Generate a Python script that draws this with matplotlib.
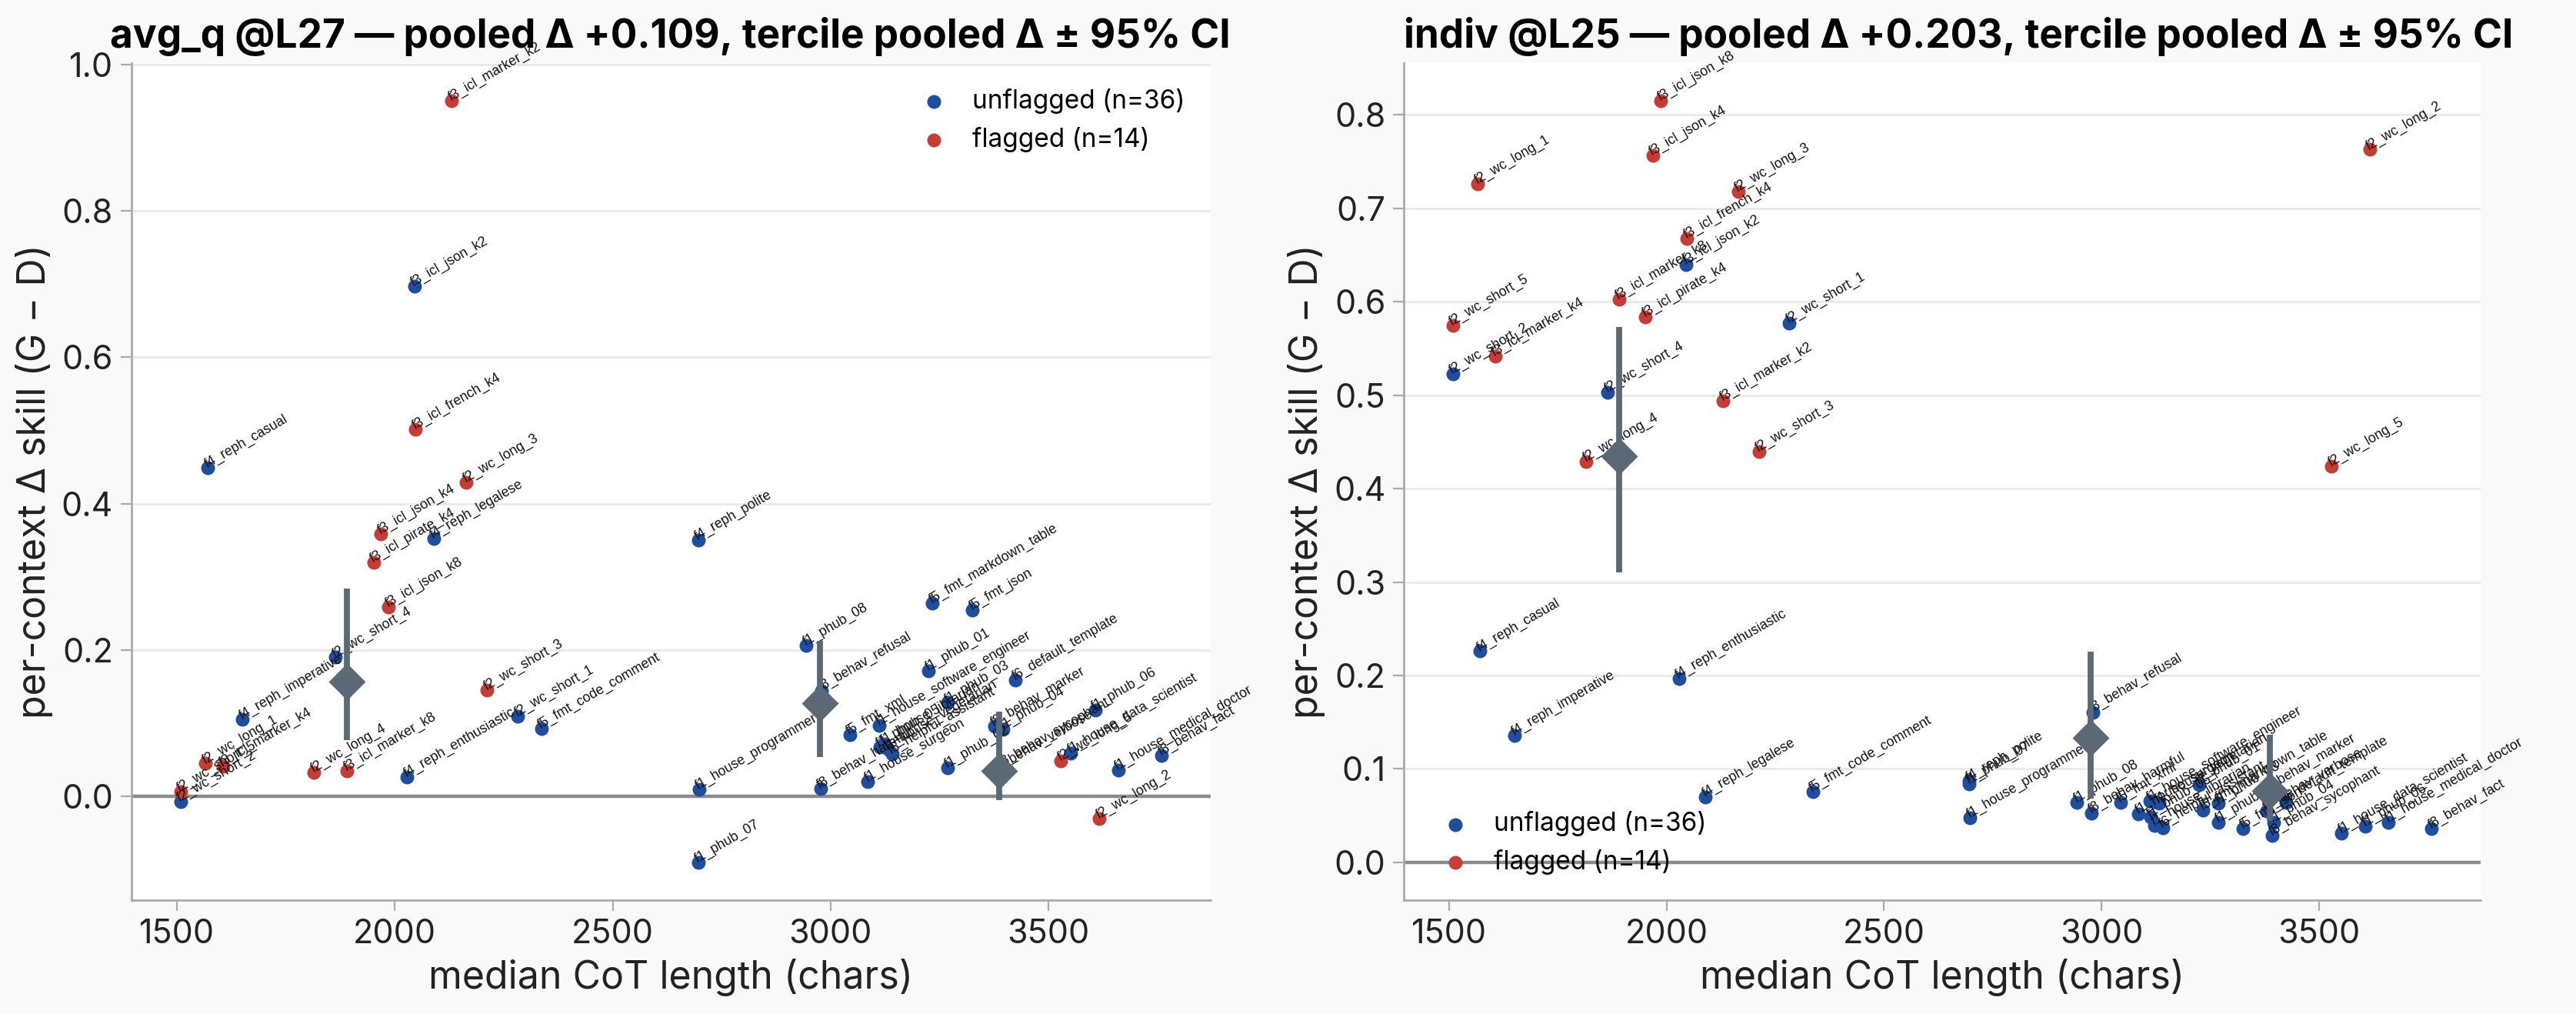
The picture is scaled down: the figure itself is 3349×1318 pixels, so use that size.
import matplotlib
matplotlib.use("Agg")
import matplotlib.pyplot as plt
import numpy as np

plt.rcParams['font.family'] = ['Inter', 'DejaVu Sans']

# ---------------- data ----------------
names = [
    "f3_icl_marker_k2", "f3_icl_json_k2", "f3_icl_french_k4", "f4_reph_casual", "f2_wc_long_3",
    "f3_icl_json_k4", "f4_reph_legalese", "f3_icl_pirate_k4", "f4_reph_polite", "f3_icl_json_k8",
    "f2_wc_short_4", "f4_reph_imperative", "f2_wc_short_3", "f2_wc_short_1", "f5_fmt_code_comment",
    "f2_wc_long_1", "f3_icl_marker_k4", "f2_wc_long_4", "f3_icl_marker_k8", "f4_reph_enthusiastic",
    "f2_wc_short_5", "f2_wc_short_2", "f1_house_programmer", "f1_phub_07", "f5_fmt_markdown_table",
    "f5_fmt_json", "f1_phub_08", "f8_behav_refusal", "f1_phub_01", "f1_house_software_engineer",
    "f5_fmt_xml", "f1_phub_03", "f6_default_template", "f8_behav_marker", "f1_phub_04",
    "f1_phub_06", "f8_behav_sycophant", "f1_phub_02", "f1_house_surgeon", "f8_behav_harmful",
    "f2_wc_long_5", "f1_house_data_scientist", "f1_house_medical_doctor", "f8_behav_fact", "f2_wc_long_2",
    "f1_phub_05", "f1_house_librarian", "f6_helpful_assistant", "f1_house_vegetarian", "f8_behav_verbose",
]
cot_len = [
    2130, 2045, 2047, 1571, 2164,
    1968, 2089, 1951, 2696, 1986,
    1864, 1650, 2212, 2282, 2336,
    1565, 1605, 1815, 1890, 2028,
    1508, 1508, 2698, 2696, 3234,
    3326, 2944, 2980, 3225, 3112,
    3044, 3269, 3424, 3376, 3396,
    3607, 3393, 3269, 3085, 2977,
    3529, 3552, 3660, 3760, 3617,
    3113, 3123, 3141, 3132, 3380,
]
delta_avgq = [
    0.950, 0.697, 0.502, 0.449, 0.429,
    0.359, 0.352, 0.320, 0.350, 0.259,
    0.190, 0.105, 0.145, 0.110, 0.093,
    0.045, 0.041, 0.033, 0.035, 0.027,
    0.007, -0.007, 0.010, -0.090, 0.264,
    0.255, 0.206, 0.144, 0.172, 0.097,
    0.084, 0.128, 0.159, 0.096, 0.092,
    0.118, 0.040, 0.039, 0.020, 0.011,
    0.049, 0.059, 0.036, 0.056, -0.030,
    0.068, 0.072, 0.058, 0.064, 0.033,
]
delta_indiv = [
    0.494, 0.640, 0.668, 0.226, 0.718,
    0.757, 0.070, 0.584, 0.087, 0.815,
    0.503, 0.136, 0.440, 0.577, 0.076,
    0.726, 0.542, 0.429, 0.603, 0.197,
    0.575, 0.523, 0.048, 0.084, 0.056,
    0.036, 0.0645, 0.1605, 0.083, 0.066,
    0.064, 0.063, 0.0645, 0.074, 0.043,
    0.039, 0.029, 0.043, 0.052, 0.053,
    0.424, 0.031, 0.043, 0.036, 0.763,
    0.0487, 0.0395, 0.0369, 0.0632, 0.0553,
]
flagged = [
    1, 0, 1, 0, 1,
    1, 0, 1, 0, 1,
    0, 0, 1, 0, 0,
    1, 1, 1, 1, 0,
    1, 0, 0, 0, 0,
    0, 0, 0, 0, 0,
    0, 0, 0, 0, 0,
    0, 0, 0, 0, 0,
    1, 0, 0, 0, 1,
    0, 0, 0, 0, 0,
]

tercile_x = [1890, 2976, 3387]
tercile_avgq = [0.157, 0.127, 0.035]
tercile_avgq_lo = [0.077, 0.0535, -0.005]
tercile_avgq_hi = [0.284, 0.213, 0.116]
tercile_indiv = [0.435, 0.133, 0.0763]
tercile_indiv_lo = [0.310, 0.0684, 0.0442]
tercile_indiv_hi = [0.573, 0.2258, 0.1368]

titles = ["avg_q @L27 \u2014 pooled \u0394 +0.109, tercile pooled \u0394 \u00b1 95% CI",
          "indiv @L25 \u2014 pooled \u0394 +0.203, tercile pooled \u0394 \u00b1 95% CI"]
legend_loc = ["upper right", "lower left"]
title_x = [-0.02, 0.0]

# ---------------- plot ----------------
BLUE = "#1f4e9f"
RED = "#c63d35"
SLATE = "#5b6876"
BG = "#f9f9f9"

fig = plt.figure(figsize=(16.745, 6.59), dpi=200, facecolor=BG)
ax_l = fig.add_axes([0.051, 0.112, 0.419, 0.826])
ax_r = fig.add_axes([0.545, 0.112, 0.418, 0.826])

x = np.array(cot_len, dtype=float)
flag = np.array(flagged, dtype=bool)

panels = [
    (ax_l, np.array(delta_avgq), tercile_avgq, tercile_avgq_lo, tercile_avgq_hi),
    (ax_r, np.array(delta_indiv), tercile_indiv, tercile_indiv_lo, tercile_indiv_hi),
]

for i, (ax, y, tm, tlo, thi) in enumerate(panels):
    ax.set_facecolor("white")
    ax.axhline(0, color="#8a8a8a", lw=1.6, zorder=1)
    ax.scatter(x[~flag], y[~flag], s=42, color=BLUE, zorder=3, linewidths=0,
               label=f"unflagged (n={int((~flag).sum())})")
    ax.scatter(x[flag], y[flag], s=42, color=RED, zorder=3, linewidths=0,
               label=f"flagged (n={int(flag.sum())})")
    for nm, xi, yi in zip(names, x, y):
        ax.annotate(nm, (xi, yi), xytext=(0.5, -1.5), textcoords="offset points",
                    fontsize=6.4, rotation=30, rotation_mode="anchor",
                    ha="left", va="bottom", color="#111111", zorder=4,
                    family=["Liberation Sans", "DejaVu Sans"])
    tm_a = np.array(tm)
    yerr = np.vstack([tm_a - np.array(tlo), np.array(thi) - tm_a])
    ax.errorbar(tercile_x, tm_a, yerr=yerr, fmt="D", color=SLATE, ms=11,
                elinewidth=2.8, capsize=0, zorder=5)
    ax.grid(axis="y", color="#e9e9e9", lw=1.0, zorder=0)
    ax.set_axisbelow(True)
    for s in ["top", "right"]:
        ax.spines[s].set_visible(False)
    for s in ["left", "bottom"]:
        ax.spines[s].set_color("#aaaaaa")
        ax.spines[s].set_linewidth(1.0)
    ax.tick_params(axis="both", labelsize=15.5, color="#aaaaaa", length=5, labelcolor="#222222")
    ax.set_xlabel("median CoT length (chars)", fontsize=18, color="#222222")
    ax.set_ylabel("per-context \u0394 skill (G \u2212 D)", fontsize=18, color="#222222")
    ax.set_title(titles[i], fontsize=18.5, fontweight="bold", loc="left", x=title_x[i], pad=7)
    ax.legend(loc=legend_loc[i], frameon=False, fontsize=12, handletextpad=0.5,
              markerscale=1.0, borderaxespad=0.6)

ax_l.set_xticks([1500, 2000, 2500, 3000, 3500])
ax_r.set_xticks([1500, 2000, 2500, 3000, 3500])

fig.savefig("out.png", dpi=200, facecolor=BG)
